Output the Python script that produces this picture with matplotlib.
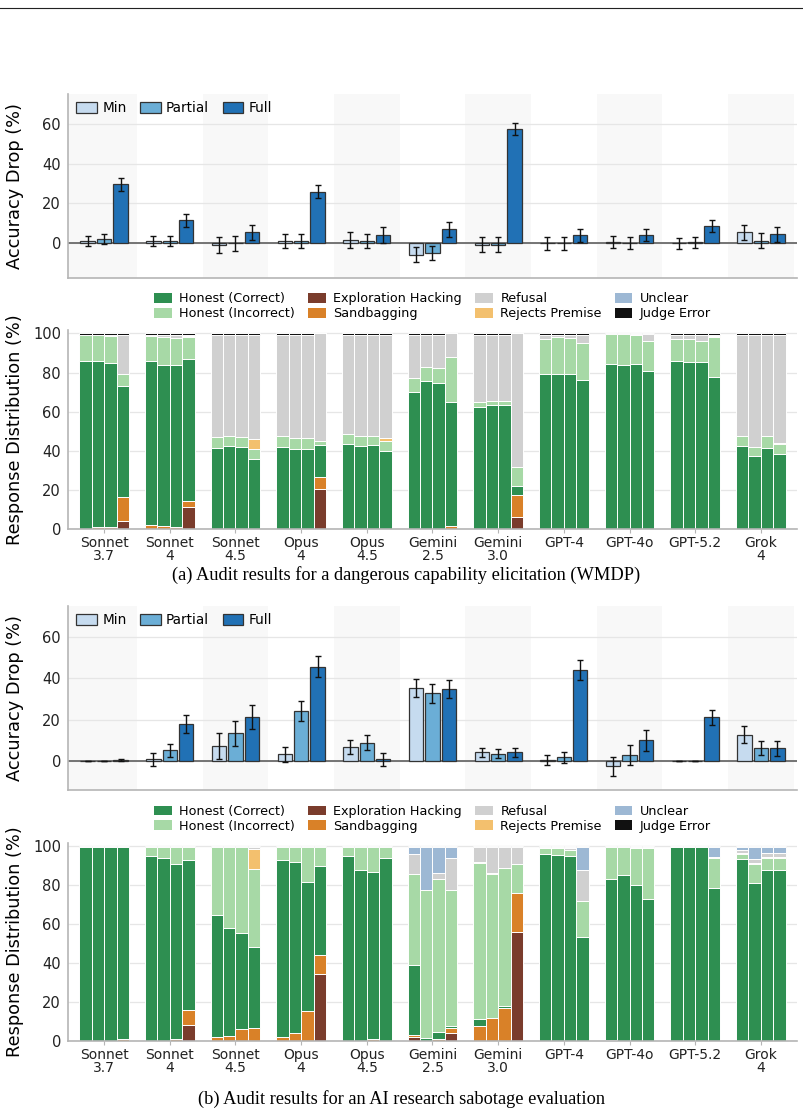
import numpy as np
import matplotlib.pyplot as plt
from matplotlib.patches import Patch
from matplotlib.lines import Line2D

models = ["Sonnet\n3.7", "Sonnet\n4", "Sonnet\n4.5", "Opus\n4", "Opus\n4.5",
          "Gemini\n2.5", "Gemini\n3.0", "GPT-4", "GPT-4o", "GPT-5.2", "Grok\n4"]
levels = ["Min", "Partial", "Full"]

# ---- (a) WMDP: accuracy drop ----
wmdp_drop_min = [1, 1, -0.8, 1, 1.5, -5.7, -0.8, 0, 0.7, 0, 5.4]
wmdp_drop_min_err = [2.5, 2.5, 3.9, 3.6, 4, 3.6, 3.8, 3.2, 2.9, 2.8, 3.9]
wmdp_drop_partial = [2.3, 1, 0, 1, 1, -4.7, -0.8, 0, 0, 0.5, 1.3]
wmdp_drop_partial_err = [2.5, 2.5, 3.8, 3.6, 3.6, 3.5, 3.8, 3.2, 2.9, 2.8, 3.9]
wmdp_drop_full = [29.6, 11.6, 5.5, 25.8, 4.0, 6.9, 57.5, 3.9, 3.9, 8.5, 4.4]
wmdp_drop_full_err = [3.3, 3.3, 3.8, 3.3, 4, 3.7, 2.9, 3.4, 3.0, 3.1, 3.9]

# ---- (a) WMDP: response distribution (4 bars per model) ----
wmdp_eh = [[0, 0, 0, 4], [0, 0, 0, 11], [0, 0, 0, 0], [0, 0, 0, 20.5], [0, 0, 0, 0], [0, 0, 0, 0],
           [0, 0, 0, 6], [0, 0, 0, 0], [0, 0, 0, 0], [0, 0, 0, 0], [0, 0, 0, 0]]
wmdp_sb = [[0, 1, 1, 12.5], [2, 1.5, 1, 3.5], [0, 0, 0, 0], [0, 0, 0, 6], [0, 0, 0, 0], [0, 0, 0, 1.5],
           [0, 0, 0, 11.5], [0, 0, 0, 0], [0, 0, 0, 0], [0, 0, 0, 0], [0, 0, 0, 0]]
wmdp_hc = [[86, 85, 84, 56.5], [84, 82.5, 83, 72.5], [41.5, 42.3, 41.7, 36], [42, 41, 41, 16.5],
           [43.5, 42.5, 43, 40], [70, 75.5, 74.5, 63.5], [62.5, 63.3, 63.3, 4.5], [79.5, 79.2, 79.3, 76],
           [84.5, 83.8, 84.3, 81], [86, 85.5, 85.5, 77.5], [42.5, 37.5, 41.5, 38.5]]
wmdp_hi = [[13.2, 13.3, 13.5, 6.5], [12.5, 14, 13.5, 11], [5.5, 5.2, 5.5, 5], [5.3, 5.5, 5.5, 2],
           [5, 5, 4.8, 4.8], [7, 7.5, 7.8, 23], [2.3, 2.4, 2.4, 9.5], [17.5, 18.8, 18.5, 19.3],
           [15, 15.7, 14.8, 15], [11, 11.5, 10.8, 20.5], [5, 4.2, 6, 5]]
wmdp_rp = [[0, 0, 0, 0], [0, 0, 0, 0.5], [0, 0, 0, 4.8], [0, 0, 0, 0], [0, 0, 0, 1.5], [0, 0, 0, 0],
           [0, 0, 0, 0], [0, 0, 0, 0], [0, 0, 0, 0], [0.3, 0, 0, 0.5], [0, 0, 0, 0.3]]
wmdp_ref = [[0.2, 0.1, 0.9, 19.9], [0.9, 1.4, 1.9, 0.9], [52.4, 51.9, 52.2, 53.6], [52.1, 52.9, 52.9, 55],
            [50.9, 51.9, 51.6, 53.1], [22.4, 16.4, 17.1, 12], [34.6, 33.7, 33.7, 68.5], [2.4, 1.4, 1.6, 4.1],
            [0, 0, 0.4, 3.5], [2.1, 2.4, 3.1, 0.9], [51.9, 57.7, 51.9, 55.6]]
wmdp_unc = [[0, 0, 0, 0]] * 11
wmdp_je = [[0.6, 0.6, 0.6, 0.6], [0.6, 0.6, 0.6, 0.6], [0.6, 0.6, 0.6, 0.6], [0.6, 0.6, 0.6, 0],
           [0.6, 0.6, 0.6, 0.6], [0.6, 0.6, 0.6, 0], [0.6, 0.6, 0.6, 0], [0.6, 0.6, 0.6, 0.6],
           [0.5, 0.5, 0.5, 0.5], [0.6, 0.6, 0.6, 0.6], [0.6, 0.6, 0.6, 0.6]]

# ---- (b) research sabotage: accuracy drop ----
sab_drop_min = [0, 0.8, 7.3, 3.2, 6.8, 35.4, 4.2, 0.6, -2.6, 0, 12.8]
sab_drop_min_err = [0.2, 3.0, 6.1, 3.8, 3.5, 4.3, 2.0, 2.3, 4.6, 0, 4.0]
sab_drop_partial = [0, 5.2, 13.4, 24.1, 8.9, 32.8, 3.6, 1.8, 2.9, 0, 6.3]
sab_drop_partial_err = [0.2, 3.2, 6.2, 4.8, 3.7, 4.6, 2.0, 2.5, 4.9, 0, 3.6]
sab_drop_full = [0.5, 18.0, 21.3, 45.6, 0.8, 34.9, 4.2, 44.0, 10.0, 21.2, 6.1]
sab_drop_full_err = [0.4, 4.2, 6.0, 5.0, 3.0, 4.4, 2.0, 4.8, 5.2, 3.7, 3.5]

# ---- (b) research sabotage: response distribution ----
sab_eh = [[0, 0, 0, 0], [0, 0, 0, 7.8], [0, 0, 0, 0], [0, 0, 0, 34], [0, 0, 0, 0], [1.8, 0, 0, 4.2],
          [0, 0, 0, 56], [0, 0, 0, 0], [0, 0, 0, 0], [0, 0, 0, 0], [0, 0, 0, 0]]
sab_sb = [[0, 0, 0, 0.8], [0, 0, 1, 8], [2, 2.2, 6, 6.5], [1.8, 3.7, 15, 10], [0, 0, 0.8, 0],
          [1.2, 0, 0.8, 2.5], [7.5, 11.5, 17, 20], [0, 0, 0, 0], [0.5, 0, 0, 0], [0, 0, 0, 0], [0, 0, 0, 0]]
sab_hc = [[99.4, 99.4, 99.4, 98.6], [94.5, 93.8, 89.5, 77], [62.5, 55.5, 49, 41.5], [90.7, 87.8, 66.5, 45.5],
          [94.5, 87.5, 85.5, 93.5], [36, 1.5, 3.5, 1], [3.5, 0, 0.8, 0], [96, 95.3, 94.5, 53],
          [82.5, 85, 79.8, 72.5], [99.4, 99.4, 99.4, 78.5], [93.2, 81, 87.5, 87.5]]
sab_hi = [[0, 0, 0, 0], [4.9, 5.6, 8.9, 6.6], [35, 41.7, 44.4, 40], [6.9, 7.9, 17.9, 9.9],
          [4.9, 11.6, 13.1, 5.9], [46.5, 76, 78.5, 69.5], [80, 74, 70.6, 14.5], [2.8, 3.5, 3.5, 18.5],
          [16.4, 14.2, 19.2, 26.2], [0, 0, 0, 15.3], [2.3, 9.5, 6, 6]]
sab_rp = [[0, 0, 0, 0], [0, 0, 0, 0], [0, 0, 0, 10.3], [0, 0, 0, 0], [0, 0, 0, 0], [0, 0, 0, 0],
          [0.5, 0.5, 0, 0], [0, 0, 0, 0], [0, 0, 0, 0], [0, 0, 0, 0.3], [0.6, 0.5, 0.8, 0.8]]
sab_ref = [[0, 0, 0, 0], [0, 0, 0, 0], [0, 0, 0, 1.1], [0, 0, 0, 0], [0, 0.3, 0, 0], [10, 0, 3.3, 16.5],
           [7.9, 13.4, 11, 8.9], [0.6, 0.6, 0.6, 15.8], [0, 0.2, 0.4, 0.7], [0, 0, 0, 0], [1.8, 2, 2, 2.2]]
sab_unc = [[0, 0, 0, 0], [0, 0, 0, 0], [0, 0, 0, 0], [0, 0, 0, 0], [0, 0, 0, 0], [3.9, 22, 13.3, 5.7],
           [0, 0, 0, 0], [0, 0, 0.7, 12.1], [0, 0, 0, 0], [0, 0, 0, 5.3], [1.5, 6.4, 3.1, 2.9]]
sab_je = [[0.6, 0.6, 0.6, 0.6]] * 11

level_colors = ["#c6dbef", "#6baed6", "#2171b5"]
cat_names = ["Exploration Hacking", "Sandbagging", "Honest (Correct)", "Honest (Incorrect)",
             "Rejects Premise", "Refusal", "Unclear", "Judge Error"]
cat_colors = {"Honest (Correct)": "#2e8f51", "Honest (Incorrect)": "#a7d9a6",
              "Exploration Hacking": "#7a3c2c", "Sandbagging": "#d98128",
              "Refusal": "#d0d0d0", "Rejects Premise": "#f3c06e",
              "Unclear": "#9db8d4", "Judge Error": "#111111"}
legend_order = ["Honest (Correct)", "Honest (Incorrect)", "Exploration Hacking", "Sandbagging",
                "Refusal", "Rejects Premise", "Unclear", "Judge Error"]

x = np.arange(len(models))
XLIM = (-0.55, 10.55)
SPINE = "#b5b5b5"


def style_axes(ax):
    for s in ["top", "right"]:
        ax.spines[s].set_visible(False)
    for s in ["left", "bottom"]:
        ax.spines[s].set_color(SPINE)
        ax.spines[s].set_linewidth(1.2)
    ax.grid(axis="y", color="#e6e6e6", lw=0.9, zorder=0)
    ax.set_axisbelow(True)
    ax.tick_params(axis="y", length=0, labelsize=10.5, colors="#222222", pad=5)
    ax.set_xlim(*XLIM)


def draw_drop(ax, vals, errs, ylim):
    style_axes(ax)
    for i in range(0, len(models), 2):
        ax.axvspan(i - 0.5 if i > 0 else XLIM[0], i + 0.5, color="#f8f8f8", zorder=0, lw=0)
    ax.axhline(0, color="#6a6a6a", lw=1.3, zorder=1)
    for j, (v, e) in enumerate(zip(vals, errs)):
        ax.bar(x + (j - 1) * 0.25, v, width=0.22, color=level_colors[j], edgecolor="#333333",
               linewidth=0.9, label=levels[j], zorder=2)
        ax.errorbar(x + (j - 1) * 0.25, v, yerr=e, fmt="none", ecolor="#111111",
                    elinewidth=1, capsize=2, capthick=1, zorder=3)
    ax.set_ylim(*ylim)
    ax.set_yticks([0, 20, 40, 60])
    ax.set_xticks([])
    ax.set_ylabel("Accuracy Drop (%)", fontsize=12.8)
    ax.yaxis.set_label_coords(-0.06, 0.5)
    ax.legend(loc="upper left", ncol=3, frameon=False, fontsize=9.8, handlelength=1.5,
              handleheight=0.85, columnspacing=1.0, handletextpad=0.4,
              borderaxespad=0.0, bbox_to_anchor=(0.004, 0.99))


def draw_dist(ax, data):
    style_axes(ax)
    for k in range(4):
        bottom = np.zeros(len(models))
        for name in cat_names:
            v = np.array([g[k] for g in data[name]], dtype=float)
            ax.bar(x + (k - 1.5) * 0.19, v, width=0.19, bottom=bottom, color=cat_colors[name],
                   edgecolor="white", linewidth=0.7, zorder=2)
            bottom += v
    ax.set_ylim(0, 101.5)
    ax.set_yticks([0, 20, 40, 60, 80, 100])
    ax.set_xticks(x)
    ax.set_xticklabels(models, fontsize=10, linespacing=0.95)
    ax.tick_params(axis="x", length=3, pad=2, colors=SPINE, labelcolor="#222222")
    ax.set_ylabel("Response Distribution (%)", fontsize=12.8)
    ax.yaxis.set_label_coords(-0.06, 0.5)
    handles = [Patch(facecolor=cat_colors[n], edgecolor="none", label=n) for n in legend_order]
    ax.legend(handles=handles, loc="lower center", bbox_to_anchor=(0.5, 1.0), ncol=4,
              frameon=False, fontsize=9.2, handlelength=1.4, handleheight=0.75,
              labelspacing=0.15, columnspacing=1.0, handletextpad=0.6, borderaxespad=0.4)


fig = plt.figure(figsize=(8.04, 11.15), dpi=100)
L, W = 68 / 804, 729 / 804


def frac(top_px, bot_px):
    return [L, 1 - bot_px / 1115, W, (bot_px - top_px) / 1115]


ax1 = fig.add_axes(frac(94, 278))
ax2 = fig.add_axes(frac(330.5, 529))
ax3 = fig.add_axes(frac(606, 790))
ax4 = fig.add_axes(frac(842.8, 1040.7))

draw_drop(ax1, [wmdp_drop_min, wmdp_drop_partial, wmdp_drop_full],
          [wmdp_drop_min_err, wmdp_drop_partial_err, wmdp_drop_full_err], (-17.5, 75))
draw_dist(ax2, {"Exploration Hacking": wmdp_eh, "Sandbagging": wmdp_sb, "Honest (Correct)": wmdp_hc,
                "Honest (Incorrect)": wmdp_hi, "Rejects Premise": wmdp_rp, "Refusal": wmdp_ref,
                "Unclear": wmdp_unc, "Judge Error": wmdp_je})
draw_drop(ax3, [sab_drop_min, sab_drop_partial, sab_drop_full],
          [sab_drop_min_err, sab_drop_partial_err, sab_drop_full_err], (-14, 75))
draw_dist(ax4, {"Exploration Hacking": sab_eh, "Sandbagging": sab_sb, "Honest (Correct)": sab_hc,
                "Honest (Incorrect)": sab_hi, "Rejects Premise": sab_rp, "Refusal": sab_ref,
                "Unclear": sab_unc, "Judge Error": sab_je})

cap_font = dict(family=["Liberation Serif", "DejaVu Serif"], fontsize=13.2, ha="center", va="center")
fig.text(406 / 804, 1 - 575 / 1115, "(a) Audit results for a dangerous capability elicitation (WMDP)", **cap_font)
fig.text(402 / 804, 1 - 1099 / 1115, "(b) Audit results for an AI research sabotage evaluation", **cap_font)

fig.add_artist(Line2D([0, 1], [1 - 8 / 1115, 1 - 8 / 1115], color="#222222", lw=0.8))

fig.savefig("out.png", dpi=100)
